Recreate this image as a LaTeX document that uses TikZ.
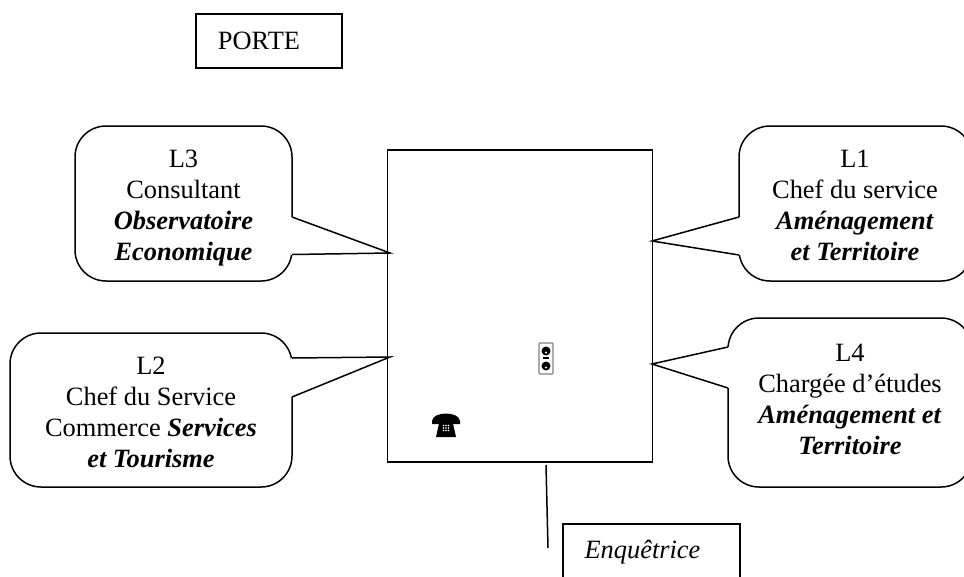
\documentclass[tikz,border=0pt]{standalone}
\usepackage{fontspec}
\setmainfont{Liberation Serif}
\newcommand{\serv}[1]{\textbf{\textit{#1}}}

\tikzset{
  bubble/.style={draw,line width=1.5pt,rounded corners=31pt,inner sep=0pt},
  txt/.style={align=center,font=\fontsize{26.4}{31}\selectfont,inner sep=0pt},
  box/.style={draw,line width=1.5pt,inner sep=0pt}
}

\begin{document}
\begin{tikzpicture}
  [x=1pt,y=-1pt,line width=1.5pt]
  \clip (0,0) rectangle (964,576);

  \node[box,minimum width=146pt,minimum height=54pt] (porte) at (269,41) {};
  \node[txt] (portetxt) at (259,41) {PORTE};
  \node[box,minimum width=265pt,minimum height=312pt] (bureau) at (520,306) {};

  \node[bubble,minimum width=217pt,minimum height=155pt] (l3) at (183.5,203.5) {};
  \node[bubble,minimum width=282pt,minimum height=154pt] (l2) at (151,410) {};
  \node[bubble,minimum width=233pt,minimum height=155pt] (l1) at (855.5,203.5) {};
  \node[bubble,minimum width=244pt,minimum height=169pt] (l4) at (850,402.5) {};

  \node[txt] (l3txt) at (183.5,208) {L3\\Consultant\\\serv{Observatoire}\\\serv{Economique}};
  \node[txt] (l2txt) at (151,412) {L2\\Chef du Service\\Commerce \serv{Services}\\\serv{et Tourisme}};
  \node[txt] (l1txt) at (855,205.5) {L1\\Chef du service\\\serv{Aménagement}\\\serv{et Territoire}};
  \node[txt] (l4txt) at (850,399) {L4\\Chargée d’études\\\serv{Aménagement et}\\\serv{Territoire}};

  \coordinate (l3a) at (292,217);
  \coordinate (l3tip) at (390,253);
  \coordinate (l3b) at (292,254.5);
  \coordinate (l2a) at (292,358);
  \coordinate (l2tip) at (390,357);
  \coordinate (l2b) at (292,397);
  \coordinate (l1a) at (739,217);
  \coordinate (l1tip) at (652,241);
  \coordinate (l1b) at (739,255);
  \coordinate (l4a) at (728,347);
  \coordinate (l4tip) at (652,364);
  \coordinate (l4b) at (728,388);

  \foreach \from/\tip/\to in {l3a/l3tip/l3b,l2a/l2tip/l2b,l1a/l1tip/l1b,l4a/l4tip/l4b} {
    \draw[white,line width=2.4pt] (\from) -- (\to);
    \draw (\from) -- (\tip) -- (\to);
  }

  \node[box,minimum width=177pt,minimum height=80pt] (enq) at (651.5,564) {};
  \node[txt] (enqtxt) at (642.5,552.5) {\textit{Enquêtrice}};
  \coordinate (enqhaut) at (546,465);
  \coordinate (enqbas) at (548,548);
  \draw (enqhaut) -- (enqbas);

  % telephone
  \fill (432,421) .. controls (433,411) and (459,411) .. (460,421) -- (460,424) -- (453,424)
    -- (452,421) .. controls (450,419.5) and (442,419.5) .. (440,421) -- (439,424) -- (432,424) -- cycle;
  \fill (440,419) -- (452,419) -- (456,437) -- (436,437) -- cycle;
  \foreach \x in {443.5,446,448.5}
    \foreach \y in {425.5,428,430.5}
      \fill[white] (\x,\y) circle (0.8);

  % poste
  \node[draw=gray,line width=1.2pt,rounded corners=1pt,minimum width=14pt,minimum height=31pt,inner sep=0pt] (poste) at (546,358.5) {};
  \node[circle,fill=black,minimum size=9pt,inner sep=0pt] (ht) at (546,351) {};
  \node[circle,fill=black,minimum size=9pt,inner sep=0pt] (bs) at (546,366) {};
  \node[fill=black,minimum width=6pt,minimum height=1.2pt,inner sep=0pt] (tiret) at (546,358) {};
  \fill[white] (546,352.5) circle (1.2) (546,367.5) circle (1.2);
\end{tikzpicture}
\end{document}
